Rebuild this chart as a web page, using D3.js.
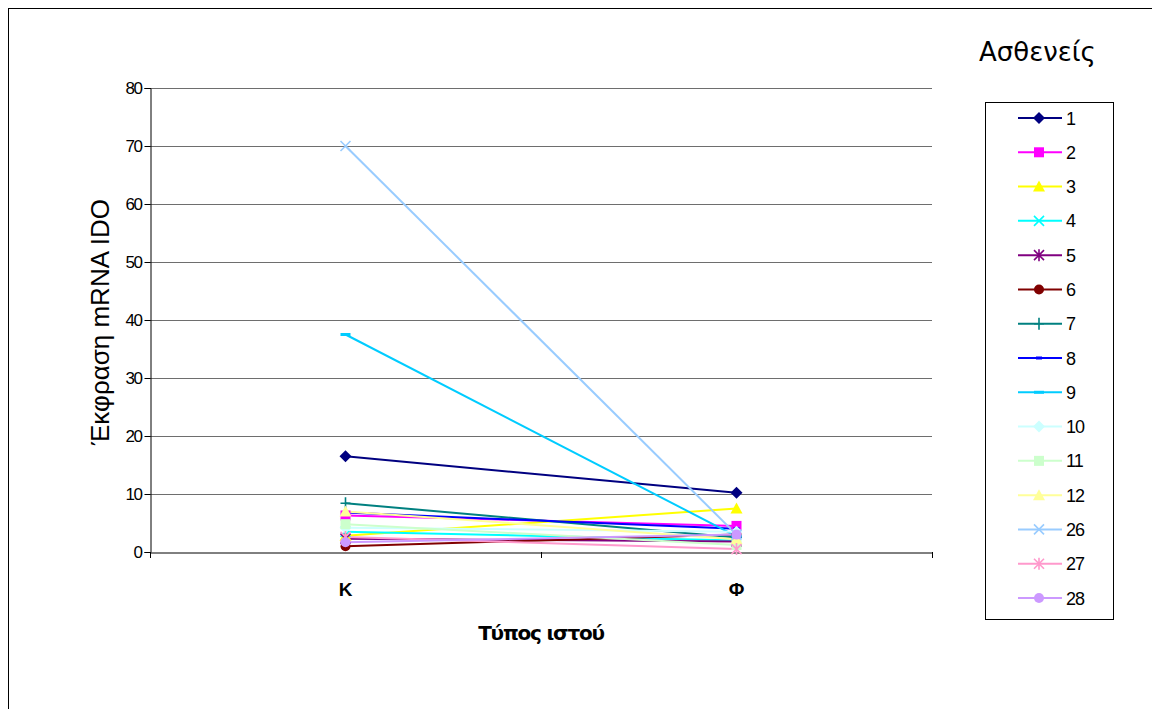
<!DOCTYPE html>
<html><head><meta charset="utf-8">
<script src="https://cdn.jsdelivr.net/npm/d3@7"></script>
<style>body{margin:0;background:#fff}svg{display:block}</style>
</head><body><svg id="c" width="1152" height="709"></svg>
<script>
const categories = ["Κ", "Φ"];
const seriesNames = ["1","2","3","4","5","6","7","8","9","10","11","12","26","27","28"];
const valuesK = [16.5, 6.3, 2.8, 3.5, 2.3, 1.0, 8.4, 6.8, 37.5, 4.2, 4.8, 7.0, 70.0, 2.6, 1.7];
const valuesF = [10.2, 4.5, 7.5, 2.0, 1.8, 3.0, 2.5, 4.0, 2.7, 3.5, 1.2, 2.2, 3.0, 0.5, 3.0];
const colors = ["#000080","#FF00FF","#FFFF00","#00FFFF","#800080","#800000","#008080","#0000FF","#00CCFF","#CCFFFF","#CCFFCC","#FFFF99","#99CCFF","#FF99CC","#CC99FF"];
const markers = ["diamond","square","triangle","x","star","circle","plus","dash","bar","diamond","square","triangle","x","star","circle"];
const yTicks = [0,10,20,30,40,50,60,70,80];

const FONT = "Liberation Sans, Arial, sans-serif";
const svg = d3.select("#c");
svg.append("rect").attr("x",8.5).attr("y",8.5).attr("width",1150).attr("height",720)
  .attr("fill","none").attr("stroke","#000").attr("stroke-width",1);

const L=150, R=932, T=88, B=552;
const y = d3.scaleLinear().domain([0,80]).range([B,T]);
const x = d3.scaleBand().domain(categories).range([L,R]);
const cx = c => x(c) + x.bandwidth()/2;

// gridlines
svg.append("g").selectAll("line").data(yTicks.filter(d=>d>0)).join("line")
  .attr("x1",L).attr("x2",R).attr("y1",d=>Math.round(y(d))+0.5).attr("y2",d=>Math.round(y(d))+0.5)
  .attr("stroke","#6e6e6e").attr("stroke-width",1.2);

// y axis
const ya = svg.append("g").attr("transform",`translate(${L+0.5},0)`)
  .call(d3.axisLeft(y).tickValues(yTicks).tickSize(6).tickPadding(3).tickFormat(d3.format("d")));
ya.select(".domain").attr("stroke","#000");
ya.selectAll(".tick line").attr("stroke","#000");
ya.selectAll("text").attr("font-family",FONT).attr("font-size",17).attr("fill","#000").attr("letter-spacing","-1.5");

// x axis
const xa = svg.append("g").attr("transform",`translate(0,${B+0.5})`)
  .call(d3.axisBottom(x).tickSize(0).tickPadding(0));
xa.select(".domain").attr("stroke","#000");
xa.selectAll(".tick text").attr("font-family",FONT).attr("font-size",19)
  .attr("font-weight","bold").attr("fill","#000").attr("dy",0).attr("y",43);
svg.append("g").selectAll("line").data([L, (L+R)/2, R]).join("line")
  .attr("x1",d=>Math.round(d)+0.5).attr("x2",d=>Math.round(d)+0.5).attr("y1",B).attr("y2",B+6).attr("stroke","#000");

// axis titles
svg.append("text").attr("transform",`translate(109,${(T+B)/2+2}) rotate(-90)`).attr("text-anchor","middle")
  .attr("font-family",FONT).attr("font-size",26).text("Έκφραση mRNA IDO");
svg.append("text").attr("x",(L+R)/2).attr("y",640).attr("text-anchor","middle")
  .attr("font-family","DejaVu Sans, sans-serif").attr("font-size",20).attr("font-weight","bold")
  .attr("letter-spacing","-1.2").text("Τύπος ιστού");

function drawMarker(g, type, color){
  const s=5;
  switch(type){
    case "diamond": g.append("path").attr("d",`M0,${-s-1}L${s+1},0L0,${s+1}L${-s-1},0Z`).attr("fill",color); break;
    case "square": g.append("rect").attr("x",-s).attr("y",-s).attr("width",2*s).attr("height",2*s).attr("fill",color); break;
    case "triangle": g.append("path").attr("d",`M0,${-s-1}L${s+1},${s}L${-s-1},${s}Z`).attr("fill",color); break;
    case "x": g.append("path").attr("d",`M${-s},${-s}L${s},${s}M${-s},${s}L${s},${-s}`).attr("stroke",color).attr("stroke-width",1.6); break;
    case "star": g.append("path").attr("d",`M${-s},${-s}L${s},${s}M${-s},${s}L${s},${-s}M0,${-s-1}L0,${s+1}`).attr("stroke",color).attr("stroke-width",1.6); break;
    case "circle": g.append("circle").attr("r",s).attr("fill",color); break;
    case "plus": g.append("path").attr("d",`M${-s},0L${s},0M0,${-s-1}L0,${s+1}`).attr("stroke",color).attr("stroke-width",1.6); break;
    case "dash": g.append("rect").attr("x",-3).attr("y",-1.5).attr("width",6).attr("height",3).attr("fill",color); break;
    case "bar": g.append("rect").attr("x",-5).attr("y",-1.5).attr("width",10).attr("height",3).attr("fill",color); break;
  }
}

const line = d3.line().x(d=>cx(d.c)).y(d=>y(d.v));
const series = seriesNames.map((n,i)=>({name:n,color:colors[i],marker:markers[i],
  pts:[{c:categories[0],v:valuesK[i]},{c:categories[1],v:valuesF[i]}]}));

series.forEach(s=>{
  svg.append("path").attr("d",line(s.pts)).attr("fill","none").attr("stroke",s.color).attr("stroke-width",2);
});
series.forEach(s=>{
  s.pts.forEach(p=>{
    const g = svg.append("g").attr("transform",`translate(${cx(p.c)},${y(p.v)})`);
    drawMarker(g, s.marker, s.color);
  });
});

// legend
svg.append("text").attr("x",979).attr("y",61).attr("font-family","DejaVu Sans, sans-serif")
  .attr("font-size",26).text("Ασθενείς");
svg.append("rect").attr("x",985.5).attr("y",102.5).attr("width",128).attr("height",517)
  .attr("fill","#fff").attr("stroke","#000").attr("stroke-width",1);
const ly = d3.scalePoint().domain(seriesNames).range([118,598]);
series.forEach(s=>{
  const yy = ly(s.name);
  svg.append("line").attr("x1",1018).attr("x2",1062).attr("y1",yy).attr("y2",yy).attr("stroke",s.color).attr("stroke-width",2);
  const g = svg.append("g").attr("transform",`translate(1039,${yy})`);
  drawMarker(g, s.marker, s.color);
  svg.append("text").attr("x",1066).attr("y",yy+6.5).attr("font-family",FONT)
    .attr("font-size",18).attr("letter-spacing","-1").text(s.name);
});
</script></body></html>
